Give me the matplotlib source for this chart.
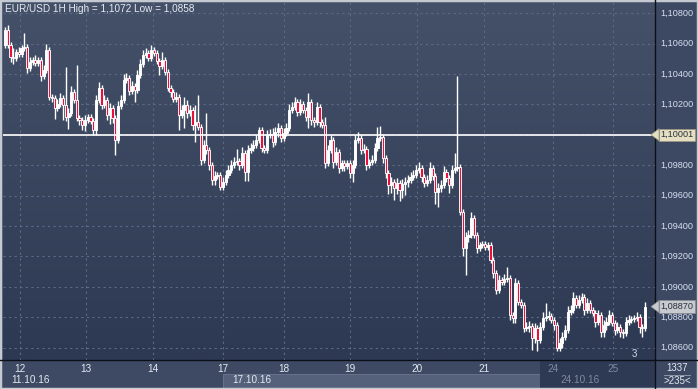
import numpy as np
import matplotlib.pyplot as plt
from matplotlib.patches import Rectangle, Polygon
from matplotlib.colors import LinearSegmentedColormap

plt.rcParams['font.family'] = ['Liberation Sans', 'DejaVu Sans']

# EUR/USD hourly candles, 11.10.16 - 25.10.16
first_open = 1.10590
closes = [
    1.10690, 1.10591, 1.10512, 1.10506, 1.10545, 1.10532, 1.10572, 1.10578, 1.10440, 1.10480,
    1.10493, 1.10473, 1.10493, 1.10387, 1.10427, 1.10559, 1.10249, 1.10243, 1.10177, 1.10203,
    1.10243, 1.10197, 1.10118, 1.10144, 1.10282, 1.10230, 1.10111, 1.10098, 1.10065, 1.10098,
    1.10118, 1.10091, 1.10032, 1.10230, 1.10309, 1.10197, 1.10230, 1.10131, 1.10177, 1.10111,
    1.09966, 1.10190, 1.10230, 1.10361, 1.10374, 1.10289, 1.10322, 1.10295, 1.10394, 1.10466,
    1.10526, 1.10539, 1.10506, 1.10559, 1.10539, 1.10486, 1.10453, 1.10493, 1.10414, 1.10309,
    1.10282, 1.10236, 1.10249, 1.10131, 1.10164, 1.10197, 1.10144, 1.10164, 1.10065, 1.10085,
    1.10052, 1.09835, 1.09934, 1.09901, 1.09802, 1.09703, 1.09730, 1.09736, 1.09657, 1.09690,
    1.09736, 1.09769, 1.09802, 1.09822, 1.09828, 1.09802, 1.09881, 1.09756, 1.09901, 1.09914,
    1.09934, 1.09966, 1.10032, 1.09914, 1.09901, 1.09999, 1.10006, 1.09953, 1.10019, 1.10045,
    1.09980, 1.10012, 1.10045, 1.10164, 1.10184, 1.10216, 1.10151, 1.10203, 1.10164, 1.10118,
    1.10216, 1.10098, 1.10085, 1.10184, 1.10085, 1.10065, 1.09815, 1.09901, 1.09966, 1.09822,
    1.09887, 1.09782, 1.09815, 1.09795, 1.09815, 1.09749, 1.09802, 1.09966, 1.09980, 1.09901,
    1.09908, 1.09802, 1.09822, 1.09835, 1.09914, 1.09980, 1.09986, 1.09848, 1.09749, 1.09670,
    1.09690, 1.09651, 1.09684, 1.09637, 1.09677, 1.09690, 1.09703, 1.09723, 1.09736, 1.09769,
    1.09782, 1.09723, 1.09684, 1.09703, 1.09782, 1.09730, 1.09624, 1.09651, 1.09670, 1.09756,
    1.09717, 1.09670, 1.09769, 1.09782, 1.09789, 1.09493, 1.09256, 1.09328, 1.09341, 1.09453,
    1.09341, 1.09256, 1.09276, 1.09282, 1.09262, 1.09276, 1.09177, 1.09091, 1.08980, 1.09045,
    1.09032, 1.09052, 1.09059, 1.08815, 1.08795, 1.09026, 1.08901, 1.08881, 1.08730, 1.08736,
    1.08743, 1.08664, 1.08730, 1.08651, 1.08736, 1.08795, 1.08802, 1.08809, 1.08782, 1.08749,
    1.08598, 1.08631, 1.08670, 1.08716, 1.08835, 1.08848, 1.08927, 1.08881, 1.08914, 1.08933,
    1.08848, 1.08894, 1.08848, 1.08828, 1.08769, 1.08815, 1.08703, 1.08749, 1.08769, 1.08815,
    1.08762, 1.08716, 1.08736, 1.08703, 1.08697, 1.08769, 1.08782, 1.08789, 1.08795, 1.08802,
    1.08736, 1.08730, 1.08870,
]
# wick lengths beyond the body, in pips
upper_wick = [
    2, 3, 2, 6, 2, 3, 2, 9, 2, 3, 2, 3, 2, 2, 3, 4, 2, 2, 2, 3,
    3, 2, 25, 3, 4, 2, 23, 2, 2, 3, 2, 2, 2, 3, 4, 2, 3, 2, 3, 2,
    2, 3, 3, 4, 3, 2, 3, 2, 3, 3, 3, 3, 2, 3, 2, 2, 2, 5, 2, 2,
    2, 2, 3, 2, 3, 5, 3, 3, 2, 11, 18, 2, 3, 21, 2, 2, 3, 2, 2, 3,
    3, 3, 3, 3, 8, 2, 4, 2, 3, 3, 3, 3, 2, 2, 2, 3, 3, 4, 3, 3,
    2, 3, 3, 4, 3, 3, 2, 3, 2, 2, 6, 2, 2, 3, 2, 2, 5, 3, 3, 2,
    3, 2, 2, 2, 2, 2, 3, 3, 4, 2, 3, 2, 2, 3, 3, 7, 7, 2, 2, 2,
    3, 2, 3, 2, 3, 3, 3, 3, 3, 3, 4, 2, 2, 3, 4, 2, 2, 3, 3, 4,
    2, 2, 3, 10, 60, 2, 2, 3, 3, 4, 2, 2, 2, 2, 2, 2, 2, 2, 2, 3,
    2, 3, 7, 2, 2, 3, 2, 2, 2, 3, 3, 2, 3, 2, 3, 4, 9, 3, 2, 2,
    2, 3, 3, 3, 4, 3, 4, 2, 3, 3, 2, 3, 2, 2, 2, 3, 2, 3, 3, 3,
    2, 2, 3, 2, 2, 3, 3, 2, 2, 3, 2, 2, 3,
]
lower_wick = [
    2, 2, 3, 4, 2, 2, 2, 2, 3, 2, 2, 2, 2, 3, 2, 2, 2, 3, 7, 2,
    2, 10, 3, 8, 2, 2, 2, 3, 3, 4, 2, 2, 3, 3, 2, 3, 2, 3, 6, 3,
    10, 2, 2, 2, 2, 3, 2, 8, 2, 2, 2, 2, 2, 2, 2, 2, 6, 2, 2, 2,
    3, 2, 2, 10, 2, 12, 3, 2, 3, 11, 2, 3, 2, 3, 3, 3, 3, 2, 2, 2,
    2, 2, 2, 2, 2, 3, 2, 6, 6, 2, 2, 2, 2, 3, 2, 2, 2, 3, 2, 3,
    3, 2, 2, 2, 2, 2, 3, 2, 2, 3, 7, 3, 3, 2, 3, 2, 3, 2, 2, 4,
    2, 3, 2, 3, 2, 3, 6, 2, 2, 3, 2, 3, 2, 2, 2, 2, 2, 3, 3, 6,
    5, 8, 4, 7, 5, 7, 3, 2, 2, 2, 2, 3, 3, 2, 2, 3, 8, 10, 3, 2,
    3, 5, 2, 2, 2, 2, 5, 18, 3, 2, 2, 3, 2, 2, 2, 2, 2, 3, 3, 2,
    2, 2, 2, 3, 3, 3, 2, 2, 3, 2, 3, 8, 3, 7, 2, 2, 2, 2, 2, 3,
    2, 2, 3, 2, 2, 2, 2, 2, 2, 2, 3, 2, 2, 2, 3, 2, 3, 3, 3, 2,
    2, 3, 2, 3, 3, 2, 2, 2, 2, 2, 4, 6, 2,
]
day_index = [5.5, 29.5, 53.5, 79, 101, 125, 149.5, 173.5, 198.5, 220.5]
day_labels = ['12', '13', '14', '17', '18', '19', '20', '21', '24', '25']
week_labels = ['11.10.16', '17.10.16', '24.10.16']
week_index = [0.5, 80.5, 199.5]
price_ticks = [1.086, 1.088, 1.090, 1.092, 1.094, 1.096, 1.098, 1.100, 1.102, 1.104, 1.106, 1.108]
level = 1.10001
shown_bars = 235
bars_total = 1337

W, H = 698, 389
fig = plt.figure(figsize=(W / 100, H / 100), dpi=100)
fig.patch.set_facecolor('#3d4963')

def fx(px):
    return px / W

def fy(py):
    return 1 - py / H

bg = LinearSegmentedColormap.from_list('bg', ['#445169', '#2d3952'])
grad = np.linspace(0, 1, 256).reshape(-1, 1)

# main price panel
ax = fig.add_axes([fx(3), fy(360), fx(652), 358 / H])
n = len(closes)
x = np.arange(n)
c = np.array(closes)
o = np.array([first_open] + closes[:-1])
top = np.maximum(o, c)
bot = np.minimum(o, c)
hi = top + np.array(upper_wick) * 0.0001
lo = bot - np.array(lower_wick) * 0.0001

xmin, xmax = -0.72, 235.6
ymin, ymax = 1.08519, 1.10874
ax.imshow(grad, extent=[xmin, xmax, ymin, ymax], aspect='auto', cmap=bg, origin='upper', zorder=0)
ax.set_xlim(xmin, xmax)
ax.set_ylim(ymin, ymax)

for p in price_ticks:
    ax.axhline(p, color='#5d6a86', lw=0.8, ls=(0, (2, 3)), zorder=1)
for d in day_index:
    ax.axvline(d, color='#5d6a86', lw=0.8, ls=(0, (2, 3)), zorder=1)

ax.vlines(x, lo, hi, color='white', lw=1.0, zorder=3)
cols = np.where(c < o, '#e8103c', 'white')
ax.bar(x, np.maximum(top - bot, 0.00003), bottom=bot, width=0.8, color=cols,
       edgecolor='white', linewidth=0.65, zorder=4)
ax.axhline(level, color='white', lw=1.2, zorder=5)
ax.set_xticks([])
ax.set_yticks([])
for s in ax.spines.values():
    s.set_visible(False)

ax.text(0.003, 1 - 7 / 358, 'EUR/USD 1H High = 1,1072 Low = 1,0858',
        transform=ax.transAxes, color='#e6ebf3', fontsize=7.2, va='center', ha='left', zorder=6)

# right price scale panel
axr = fig.add_axes([fx(655), fy(360), fx(43), 358 / H])
axr.imshow(grad, extent=[0, 1, 0, 1], aspect='auto', cmap=bg, origin='upper')
axr.set_xlim(0, 1)
axr.set_ylim(ymin, ymax)
axr.set_axis_off()
for p in price_ticks:
    axr.text(0.12, p, f'{p:.5f}'.replace('.', ','), color='#d6e0f2', fontsize=6.6,
             va='center', ha='left', transform=axr.get_yaxis_transform())

def price_tag(val, face, edge):
    axr.text(0.13, val, f'{val:.5f}'.replace('.', ','), color='#2a2f3a', fontsize=6.6,
             va='center', ha='left', transform=axr.get_yaxis_transform(), zorder=7,
             bbox=dict(boxstyle='square,pad=0.18', fc=face, ec=edge, lw=0.6))
    yp = ax.transData.transform((0, val))[1] / H
    tri = Polygon([[fx(651), yp], [fx(659), yp + 6 / H], [fx(659), yp - 6 / H]],
                  closed=True, transform=fig.transFigure, fc=face, ec=edge, lw=0.5, zorder=8)
    fig.add_artist(tri)

price_tag(level, '#e4dfc3', '#9d9780')
price_tag(closes[-1], '#c7cbd0', '#8a8e94')

# bottom time scale panel
axb = fig.add_axes([0, 0, fx(655), 29 / H])
axb.set_xlim(0, 655)
axb.set_ylim(29, 0)
axb.set_axis_off()
axb.add_patch(Rectangle((0, 0), 655, 29, fc='#3e4a64', ec='none'))
axb.add_patch(Rectangle((223, 14), 317, 15, fc='#55617b', ec='#6b7690', lw=0.6))
axb.add_patch(Rectangle((540, 0), 115, 29, fc='#2e3a54', ec='none'))

def ix_to_px(i):
    return ax.transData.transform((i, 0))[0]

for d, lab in zip(day_index, day_labels):
    px = ix_to_px(d)
    col = '#7f8aa0' if px > 540 else '#e4e9f2'
    axb.text(px, 9, lab, color=col, fontsize=7.2, ha='center', va='center')
for w, lab in zip(week_index, week_labels):
    px = ix_to_px(w) + 5
    col = '#7f8aa0' if px > 540 else '#e4e9f2'
    axb.text(px, 20, lab, color=col, fontsize=7.2, ha='left', va='center')

# lines between panels
fig.add_artist(plt.Line2D([fx(655), fx(655)], [0, fy(0)], color='#0b0f18', lw=1))
fig.add_artist(plt.Line2D([0, 1], [fy(360), fy(360)], color='#0b0f18', lw=1))

# bottom right counter
fig.text(fx(677), fy(368), str(bars_total), color='#e4e9f2', fontsize=7, ha='center', va='center')
fig.add_artist(plt.Line2D([fx(664), fx(690)], [fy(375), fy(375)], color='#9aa3b5', lw=0.6))
fig.text(fx(677), fy(381), f'>{shown_bars}<', color='#e4e9f2', fontsize=7, ha='center', va='center')
fig.text(fx(634), fy(354), '3', color='#d0dcf0', fontsize=7, ha='center', va='center')

# outer frame
fig.add_artist(Rectangle((0, 0), 1, 1, transform=fig.transFigure, fill=False,
                         ec='#c4c9d2', lw=2.5))

fig.savefig('out.png', dpi=100, facecolor=fig.get_facecolor())
